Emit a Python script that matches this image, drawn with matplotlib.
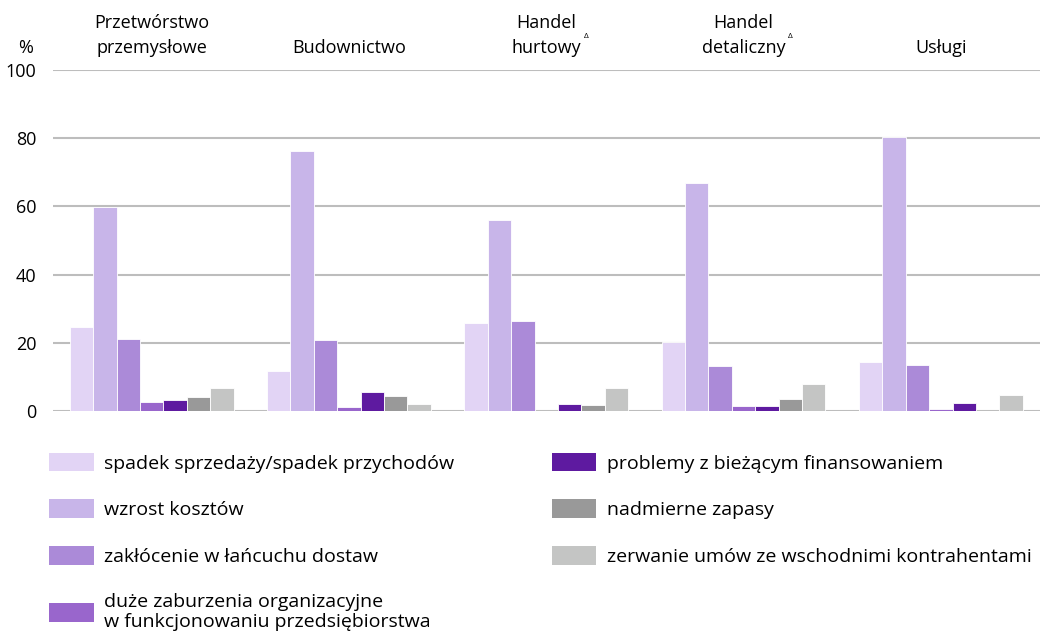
import matplotlib.pyplot as plt
import numpy as np
from matplotlib.patches import Patch
from matplotlib.transforms import blended_transform_factory

plt.rcParams['font.family'] = ['Open Sans', 'DejaVu Sans']

sectors = ['Przetwórstwo\nprzemysłowe', 'Budownictwo', 'Handel\nhurtowy', 'Handel\ndetaliczny', 'Usługi']
delta = [False, False, True, True, False]

series = [
    'spadek sprzedaży/spadek przychodów',
    'wzrost kosztów',
    'zakłócenie w łańcuchu dostaw',
    'duże zaburzenia organizacyjne\nw funkcjonowaniu przedsiębiorstwa',
    'problemy z bieżącym finansowaniem',
    'nadmierne zapasy',
    'zerwanie umów ze wschodnimi kontrahentami',
]
colors = ['#E2D4F5', '#C8B5E9', '#AB8AD8', '#9966CC', '#5E1AA0', '#999999', '#C4C5C4']

spadek = [24.5, 11.8, 25.8, 20.1, 14.3]
wzrost = [59.8, 76.4, 56.0, 67.0, 80.4]
zaklocenie = [21.1, 20.7, 26.5, 13.3, 13.5]
zaburzenia = [2.5, 1.1, 0.0, 1.3, 0.6]
finansowanie = [3.1, 5.6, 2.0, 1.5, 2.3]
zapasy = [4.2, 4.3, 1.8, 3.5, 0.0]
zerwanie = [6.6, 2.0, 6.8, 7.8, 4.6]
values = [spadek, wzrost, zaklocenie, zaburzenia, finansowanie, zapasy, zerwanie]

fig = plt.figure(figsize=(10.49, 6.38), dpi=100)
ax = fig.add_axes([0.0505, 0.356, 0.9405, 0.534])

x = np.arange(len(sectors))
w = 0.1186
for i, (vals, c) in enumerate(zip(values, colors)):
    ax.bar(x + (i - 3) * w, vals, width=w, color=c, edgecolor='white', linewidth=0.6, zorder=3)

ax.set_xlim(-0.5, len(sectors) - 0.5)
ax.set_ylim(0, 100)
ax.set_yticks([0, 20, 40, 60, 80, 100])
ax.yaxis.grid(True, color='#BDBDBD', linewidth=1.5, zorder=0)
ax.set_axisbelow(True)
for s in ax.spines.values():
    s.set_visible(False)
ax.set_xticks([])
ax.tick_params(axis='y', length=0, pad=12, labelsize=13)

trans = blended_transform_factory(ax.transData, ax.transAxes)
for xi, name, d in zip(x, sectors, delta):
    t = ax.text(xi, 1.04, name, transform=trans, ha='center', va='bottom',
                fontsize=13, linespacing=1.45)
    if d:
        ax.annotate('Δ', xy=(1, 0), xycoords=t, xytext=(2, 12),
                    textcoords='offset points', ha='left', va='bottom', fontsize=6)
ax.text(-0.028, 1.04, '%', transform=ax.transAxes, ha='center', va='bottom', fontsize=13)

handles = [Patch(facecolor=c, edgecolor='none') for c in colors]
leg = fig.legend(handles, series, loc='upper left', bbox_to_anchor=(0.03, 0.318), ncol=2,
                 frameon=False, fontsize=14, handlelength=2.3, handleheight=1.1,
                 handletextpad=0.55, labelspacing=1.38, columnspacing=5.0)
for txt in leg.get_texts():
    txt.set_linespacing(1.15)

fig.savefig('out.png', dpi=100)
